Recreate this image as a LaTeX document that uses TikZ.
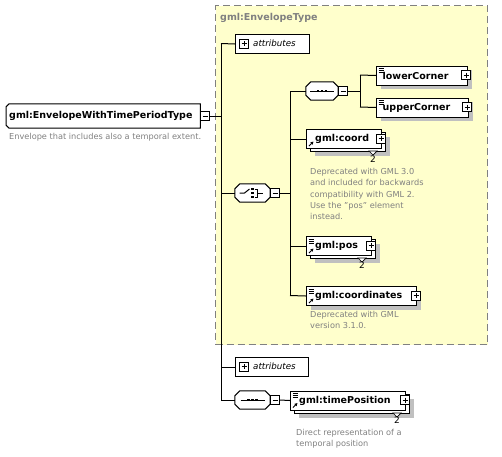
\documentclass[tikz,border=0pt]{standalone}
\usepackage{fontspec}
\setmainfont{DejaVu Sans}
\usetikzlibrary{shadows,arrows.meta}
\definecolor{bgyel}{RGB}{255,255,204}
\definecolor{shgray}{RGB}{192,192,192}
\definecolor{txgray}{RGB}{128,128,128}
\definecolor{frgray}{RGB}{128,128,128}
\tikzset{
  conn/.style={line width=1pt, black},
  shad/.style={drop shadow={shadow xshift=4pt, shadow yshift=-4pt, fill=shgray, opacity=1}},
  ebox/.style={draw, fill=white, line width=1pt, anchor=north west, inner sep=0pt, minimum height=19pt},
  eqicon/.style={path picture={
     \foreach \d in {2.5,4.5,6.5}
       \draw[line width=0.7pt] ([xshift=2pt,yshift=-\d pt]path picture bounding box.north west) -- ++(5pt,0pt);}},
  eqref/.style={path picture={
     \foreach \d in {2.5,4.5,6.5}
       \draw[line width=0.7pt] ([xshift=2pt,yshift=-\d pt]path picture bounding box.north west) -- ++(5pt,0pt);
     \draw[line width=0.9pt,-{Triangle[length=3pt,width=3pt]}] ([xshift=2.5pt,yshift=2.5pt]path picture bounding box.south west) -- ++(4.5pt,4.5pt);}},
  refonly/.style={path picture={
     \draw[line width=0.9pt,-{Triangle[length=3pt,width=3pt]}] ([xshift=2.5pt,yshift=2.5pt]path picture bounding box.south west) -- ++(4.5pt,4.5pt);}},
  lbl/.style={anchor=west, inner sep=0pt, font=\fontsize{9.5}{11}\selectfont\bfseries},
  pmbox/.style={draw, fill=white, line width=0.8pt, minimum size=9pt, inner sep=0pt},
  plus/.style={pmbox, path picture={
     \draw[line width=0.8pt] ([xshift=2pt]path picture bounding box.west) -- ([xshift=-2pt]path picture bounding box.east);
     \draw[line width=0.8pt] ([yshift=-2pt]path picture bounding box.north) -- ([yshift=2pt]path picture bounding box.south);}},
  minus/.style={pmbox, path picture={
     \draw[line width=0.8pt] ([xshift=2pt]path picture bounding box.west) -- ([xshift=-2pt]path picture bounding box.east);}},
  comp/.style={rectangle, minimum height=18pt, inner sep=0pt},
  octline/.style={draw=black, fill=white, line width=1pt},
  desc/.style={anchor=north west, inner sep=0pt, align=left, text=txgray, font=\fontsize{8.2}{11.3}\selectfont},
  attrbox/.style={draw, fill=white, line width=1pt, anchor=north west, minimum height=19pt, inner sep=0pt},
  attrtxt/.style={anchor=west, inner sep=0pt, font=\fontsize{8.7}{10}\selectfont\itshape},
  mult/.style={anchor=north, inner sep=0pt, font=\fontsize{9}{10}\selectfont},
  tri/.style={draw, fill=white, line width=0.7pt},
}
% octagon outline through the anchors of a named node; #2 = chamfer
\newcommand\octpath[2]{([xshift=#2]#1.north west) -- ([xshift=-#2]#1.north east) -- ([yshift=-#2]#1.north east) -- ([yshift=#2]#1.south east) -- ([xshift=-#2]#1.south east) -- ([xshift=#2]#1.south west) -- ([yshift=#2]#1.south west) -- ([yshift=-#2]#1.north west) -- cycle}
\newcommand\drawoct[2]{%
  \begin{scope}[shift={(4pt,-4pt)}]\fill[shgray] \octpath{#1}{#2};\end{scope}
  \path[octline] \octpath{#1}{#2};
}
\newcommand\seqicon[1]{%
  \draw[line width=1pt] ([xshift=-12pt]#1.center) -- ([xshift=12pt]#1.center);
  \foreach \dx in {-4,0,4}
    \fill ([xshift=\dx pt]#1.center) +(-1.3pt,-1.3pt) rectangle +(1.3pt,1.3pt);
}
\newcommand\choiceicon[1]{%
  \draw[line width=1pt] ([xshift=-13pt]#1.center) -- ([xshift=-8pt]#1.center) -- ([xshift=-3pt,yshift=4pt]#1.center);
  \foreach \dy in {-4,0,4}
    \fill ([xshift=0pt,yshift=\dy pt]#1.center) +(-1.2pt,-1.2pt) rectangle +(1.2pt,1.2pt);
  \draw[line width=1pt] ([xshift=2pt,yshift=4pt]#1.center) -- ([xshift=5pt,yshift=4pt]#1.center) -- ([xshift=5pt,yshift=-4pt]#1.center) -- ([xshift=2pt,yshift=-4pt]#1.center);
  \draw[line width=1pt] ([xshift=5pt]#1.center) -- ([xshift=10pt]#1.center);
}
\begin{document}
\begin{tikzpicture}[x=1pt,y=-1pt]
\useasboundingbox (0,0) rectangle (502,456);
% frame
\node[draw=frgray, fill=bgyel, line width=1pt, dash pattern=on 7pt off 4pt, anchor=north west, minimum width=272pt, minimum height=339pt, inner sep=0pt] (env) at (215,5) {};
\node[anchor=west, inner sep=0pt, text=txgray, font=\fontsize{9.5}{11}\selectfont\bfseries] (envT) at (220,18) {gml:EnvelopeType};

% main element
\node[rectangle, minimum width=194pt, minimum height=24pt, inner sep=0pt, anchor=west] (main) at (6,116) {};
\begin{scope}[shift={(4pt,-4pt)}]
  \fill[shgray] ([xshift=3pt]main.north west) -- (main.north east) -- (main.south east) -- ([xshift=3pt]main.south west) -- ([yshift=3pt]main.south west) -- ([yshift=-3pt]main.north west) -- cycle;
\end{scope}
\path[octline] ([xshift=3pt]main.north west) -- (main.north east) -- (main.south east) -- ([xshift=3pt]main.south west) -- ([yshift=3pt]main.south west) -- ([yshift=-3pt]main.north west) -- cycle;
\node[lbl] (mainT) at ([xshift=3pt]main.west) {gml:EnvelopeWithTimePeriodType};
\node[minus] (mainM) at (205,116) {};
\node[desc] (mainD) at (9,133) {Envelope that includes also a temporal extent.};

% attributes 1
\node[attrbox, minimum width=74pt] (attr1) at (235,34) {};
\node[plus] (attr1P) at (244,43.5) {};
\node[attrtxt] (attr1T) at (253,43.5) {attributes};

% sequence 1
\node[comp, minimum width=32pt] (seq1) at (322,91) {};
\drawoct{seq1}{5pt}
\seqicon{seq1}
\node[minus] (seq1M) at (343,91) {};

\node[ebox, shad, eqicon, minimum width=91pt] (lc) at (376,65.5) {};
\node[lbl] (lcT) at ([xshift=6.5pt]lc.west) {lowerCorner};
\node[plus] (lcP) at (466,75) {};
\node[ebox, shad, eqicon, minimum width=92pt] (uc) at (376,97.5) {};
\node[lbl] (ucT) at ([xshift=6.5pt]uc.west) {upperCorner};
\node[plus] (ucP) at (467,107) {};

% choice
\node[comp, minimum width=35pt] (choice) at (252.5,193) {};
\drawoct{choice}{5pt}
\choiceicon{choice}
\node[minus] (choiceM) at (275,193) {};

% gml:coord
\node[ebox, shad, minimum width=75pt] (coordB) at (310,132) {};
\coordinate (coordV) at (373,151);
\draw[tri] (coordV) ++(-4pt,0pt) -- ++(8pt,0pt) -- ++(-4pt,-4pt) -- cycle;
\node[ebox, refonly, minimum width=75pt] (coord) at (306,129) {};
\node[lbl] (coordT) at ([xshift=9pt]coord.west) {gml:coord};
\node[plus] (coordP) at (381,138.5) {};
\node[mult] (coordN) at (373,156) {2};
\node[desc] (coordD) at (310,168) {Deprecated with GML 3.0\\and included for backwards\\compatibility with GML 2.\\Use the "pos" element\\instead.};

% gml:pos
\node[ebox, shad, minimum width=65pt] (posB) at (310,239) {};
\coordinate (posV) at (362,258);
\draw[tri] (posV) ++(-4pt,0pt) -- ++(8pt,0pt) -- ++(-4pt,-4pt) -- cycle;
\node[ebox, eqref, minimum width=65pt] (pos) at (306,236) {};
\node[lbl] (posT) at ([xshift=9pt]pos.west) {gml:pos};
\node[plus] (posP) at (371,245.5) {};
\node[mult] (posN) at (362,262) {2};

% gml:coordinates
\node[ebox, shad, eqref, minimum width=110pt] (coords) at (306,286) {};
\node[lbl] (coordsT) at ([xshift=9pt]coords.west) {gml:coordinates};
\node[plus] (coordsP) at (416,295.5) {};
\node[desc] (coordsD) at (310,311) {Deprecated with GML\\version 3.1.0.};

% attributes 2
\node[attrbox, minimum width=73pt] (attr2) at (235,357) {};
\node[plus] (attr2P) at (244,366.5) {};
\node[attrtxt] (attr2T) at (253,366.5) {attributes};

% sequence 2
\node[comp, minimum width=35pt] (seq2) at (252.5,400) {};
\drawoct{seq2}{5pt}
\seqicon{seq2}
\node[minus] (seq2M) at (275,400) {};

% gml:timePosition
\node[ebox, shad, minimum width=115pt] (tpB) at (294,394) {};
\coordinate (tpV) at (397,413);
\draw[tri] (tpV) ++(-4pt,0pt) -- ++(8pt,0pt) -- ++(-4pt,-4pt) -- cycle;
\node[ebox, eqref, minimum width=115pt] (tp) at (290,390.5) {};
\node[lbl] (tpT) at ([xshift=9pt]tp.west) {gml:timePosition};
\node[plus] (tpP) at (405,400) {};
\node[mult] (tpN) at (397,417) {2};
\node[desc] (tpD) at (296,429) {Direct representation of a\\temporal position};

% connectors
\coordinate (tTop) at (221,43.5);
\coordinate (tBot) at (221,400);
\draw[conn] (tTop) -- (tBot);
\draw[conn] (mainM.east) -- (mainM.east -| tTop);
\draw[conn] (tTop) -- (attr1.west);
\draw[conn] (choice.west -| tTop) -- (choice.west);
\draw[conn] (attr2.west -| tTop) -- (attr2.west);
\draw[conn] (tBot) -- (seq2.west);
\draw[conn] (seq2M.east) -- (tp.west);
\coordinate (bTop) at (290,91);
\coordinate (bBot) at (290,295.5);
\draw[conn] (bTop) -- (bBot);
\draw[conn] (choiceM.east) -- (choiceM.east -| bTop);
\draw[conn] (bTop) -- (seq1.west);
\draw[conn] (coord.west -| bTop) -- (coord.west);
\draw[conn] (pos.west -| bTop) -- (pos.west);
\draw[conn] (bBot) -- (coords.west);
\coordinate (cTop) at (360,75);
\coordinate (cBot) at (360,107);
\draw[conn] (cTop) -- (cBot);
\draw[conn] (seq1M.east) -- (seq1M.east -| cTop);
\draw[conn] (cTop) -- (lc.west);
\draw[conn] (cBot) -- (uc.west);
\end{tikzpicture}
\end{document}
